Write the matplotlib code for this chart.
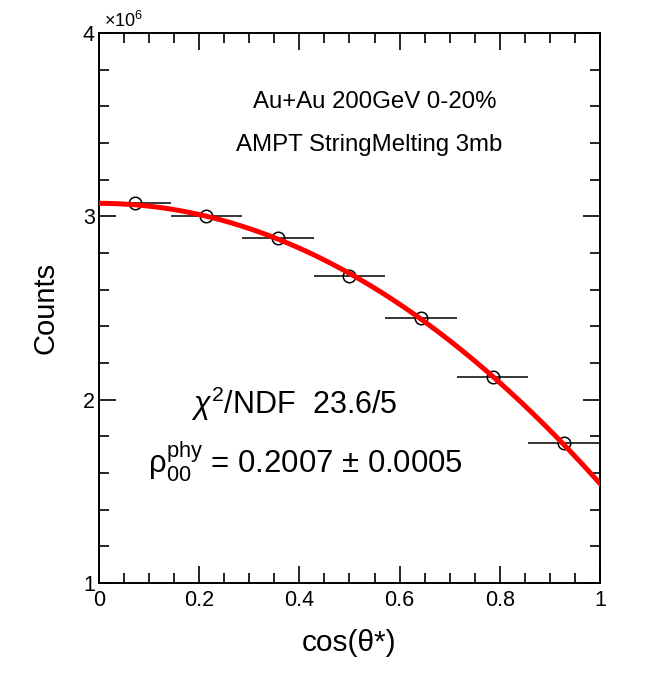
import numpy as np
import matplotlib
matplotlib.use("Agg")
import matplotlib.pyplot as plt
from matplotlib.ticker import MultipleLocator, FixedLocator, FixedFormatter

plt.rcParams['font.family'] = ['Liberation Sans', 'DejaVu Sans']
plt.rcParams['mathtext.fontset'] = 'custom'
plt.rcParams['mathtext.rm'] = 'Liberation Sans'
plt.rcParams['mathtext.it'] = 'Liberation Sans:italic'

# data (counts in units of 1e6)
bin_centers = [1/14, 3/14, 5/14, 7/14, 9/14, 11/14, 13/14]
bin_halfwidth = [1/14] * 7
counts = [3.075, 3.000, 2.882, 2.675, 2.446, 2.124, 1.764]
count_err = [0.003] * 7

x_ticks = [0, 0.2, 0.4, 0.6, 0.8, 1.0]
x_ticklabels = ['0', '0.2', '0.4', '0.6', '0.8', '1']
y_ticks = [1, 2, 3, 4]
y_ticklabels = ['1', '2', '3', '4']

# fit parameters
fit_norm = 3.842
rho00 = 0.2007

fig = plt.figure(figsize=(6.64, 6.76), dpi=100)
ax = fig.add_axes([99/664, 1-583/676, 501/664, 550/676])

xf = np.linspace(0, 1, 300)
yf = fit_norm * ((1 - rho00) + (3 * rho00 - 1) * xf**2)

ax.errorbar(bin_centers, counts, xerr=bin_halfwidth, yerr=count_err, fmt='o',
            mfc='none', mec='black', ecolor='black', ms=9, mew=1.1,
            elinewidth=1.1, capsize=0, zorder=3)
ax.plot(xf, yf, color='#ff0000', lw=3.6, zorder=4)

ax.set_xlim(0, 1)
ax.set_ylim(1, 4)
ax.xaxis.set_major_locator(FixedLocator(x_ticks))
ax.xaxis.set_major_formatter(FixedFormatter(x_ticklabels))
ax.xaxis.set_minor_locator(MultipleLocator(0.05))
ax.yaxis.set_major_locator(FixedLocator(y_ticks))
ax.yaxis.set_major_formatter(FixedFormatter(y_ticklabels))
ax.yaxis.set_minor_locator(MultipleLocator(0.2))

ax.tick_params(which='both', direction='in', top=True, right=True,
               labelsize=15.5, width=1.2)
ax.tick_params(axis='x', pad=5)
ax.tick_params(axis='y', pad=3)
ax.tick_params(which='major', length=12)
ax.tick_params(which='minor', length=7)
for s in ax.spines.values():
    s.set_linewidth(1.4)

ax.set_xlabel('cos(θ*)', fontsize=21.5, labelpad=13)
ax.set_ylabel('Counts', fontsize=21, labelpad=17)

ax.text(0.01, 1.003, r'$\times 10^{6}$', transform=ax.transAxes, fontsize=13,
        ha='left', va='bottom')

ax.text(0.55, 0.875, 'Au+Au 200GeV 0-20%', transform=ax.transAxes,
        fontsize=17.3, ha='center', va='center')
ax.text(0.54, 0.797, 'AMPT StringMelting 3mb', transform=ax.transAxes,
        fontsize=17.3, ha='center', va='center')

ax.text(0.39, 0.325, r'$\chi^{2}$/NDF  23.6/5', transform=ax.transAxes,
        fontsize=22, ha='center', va='center')
ax.text(0.413, 0.22, r'$\mathrm{ρ}_{00}^{\mathrm{phy}}$ = 0.2007 ± 0.0005',
        transform=ax.transAxes, fontsize=22.4, ha='center', va='center')

fig.savefig('out.png', dpi=100)
